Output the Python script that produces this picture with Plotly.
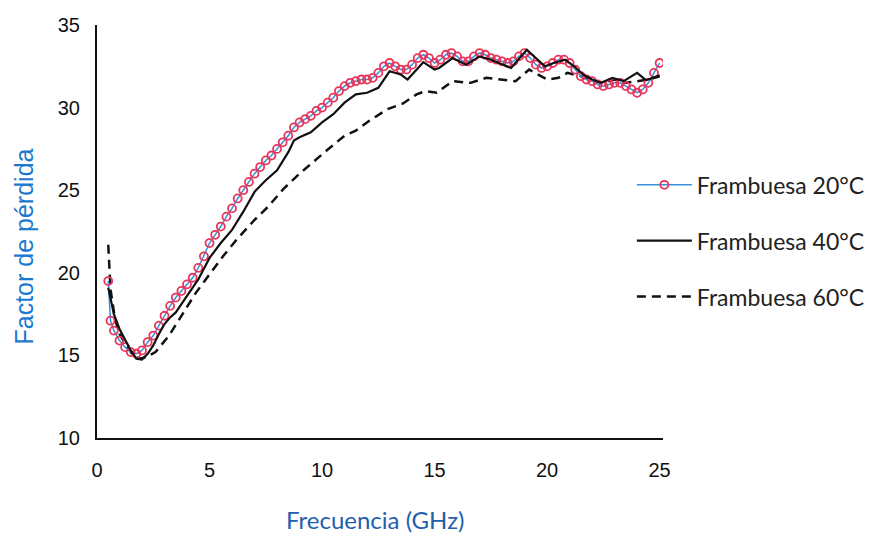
import plotly.graph_objects as go

# Frambuesa 20°C (open circles)
x20 = [0.5, 0.6, 0.75, 1.0, 1.25, 1.5, 1.75, 2.0, 2.25, 2.5, 2.75, 3.0, 3.25, 3.5, 3.75, 4.0, 4.25, 4.5, 4.75,
       5.0, 5.25, 5.5, 5.75, 6.0, 6.25, 6.5, 6.75, 7.0, 7.25, 7.5, 7.75, 8.0, 8.25, 8.5, 8.75, 9.0, 9.25, 9.5, 9.75,
       10.0, 10.25, 10.5, 10.75, 11.0, 11.25, 11.5, 11.75, 12.0, 12.25, 12.5, 12.75, 13.0, 13.25, 13.5, 13.75,
       14.0, 14.25, 14.5, 14.75, 15.0, 15.25, 15.5, 15.75, 16.0, 16.25, 16.5, 16.75, 17.0, 17.25, 17.5, 17.75,
       18.0, 18.25, 18.5, 18.75, 19.0, 19.25, 19.5, 19.75, 20.0, 20.25, 20.5, 20.75, 21.0, 21.25, 21.5, 21.75,
       22.0, 22.25, 22.5, 22.75, 23.0, 23.25, 23.5, 23.75, 24.0, 24.25, 24.5, 24.75, 25.0]
y20 = [19.5, 17.1, 16.5, 15.9, 15.5, 15.2, 15.1, 15.3, 15.8, 16.2, 16.8, 17.4, 18.0, 18.5, 18.9, 19.3, 19.7, 20.3, 21.0,
       21.8, 22.3, 22.8, 23.4, 23.9, 24.5, 25.0, 25.5, 26.0, 26.4, 26.8, 27.1, 27.5, 27.9, 28.3, 28.8, 29.1, 29.3, 29.5, 29.8,
       30.0, 30.3, 30.6, 31.0, 31.3, 31.5, 31.6, 31.7, 31.7, 31.8, 32.1, 32.5, 32.7, 32.5, 32.3, 32.3,
       32.6, 33.0, 33.2, 33.0, 32.7, 32.9, 33.2, 33.3, 33.1, 32.8, 32.8, 33.1, 33.3, 33.2, 33.0, 32.9,
       32.8, 32.7, 32.8, 33.1, 33.3, 33.0, 32.6, 32.4, 32.5, 32.7, 32.9, 32.9, 32.7, 32.3, 31.9, 31.7,
       31.6, 31.4, 31.3, 31.4, 31.5, 31.5, 31.3, 31.1, 30.9, 31.1, 31.5, 32.1, 32.7]

# Frambuesa 40°C (solid)
x40 = [0.5, 0.75, 1.0, 1.25, 1.5, 1.75, 2.0, 2.25, 2.5, 2.75, 3.0, 3.25, 3.5, 3.75, 4.0, 4.5, 5.0, 5.5, 6.0, 6.5,
       7.0, 7.5, 8.0, 8.5, 8.75, 9.0, 9.5, 10.0, 10.5, 11.0, 11.5, 12.0, 12.5, 13.0, 13.5, 13.8, 14.5, 15.0, 15.2,
       15.8, 16.4, 17.0, 17.5, 18.0, 18.4, 19.1, 19.5, 19.9, 20.3, 20.8, 21.2, 21.6, 22.0, 22.4, 22.9, 23.4, 24.0,
       24.4, 25.0]
y40 = [19.1, 17.5, 16.6, 15.9, 15.3, 14.8, 14.75, 15.1, 15.6, 16.3, 16.9, 17.3, 17.6, 18.1, 18.6, 19.6, 20.9, 21.8, 22.6, 23.7,
       24.9, 25.6, 26.2, 27.3, 28.0, 28.2, 28.5, 29.1, 29.6, 30.3, 30.8, 30.9, 31.2, 32.2, 32.0, 31.7, 32.75, 32.3, 32.4,
       33.0, 32.6, 33.1, 32.9, 32.6, 32.4, 33.5, 33.0, 32.5, 32.7, 32.9, 32.5, 32.0, 31.7, 31.5, 31.8, 31.6, 32.1,
       31.65, 31.95]

# Frambuesa 60°C (dashed)
x60 = [0.5, 0.6, 0.8, 1.0, 1.3, 1.6, 1.9, 2.2, 2.6, 3.2, 3.8, 4.4, 5.0, 5.6, 6.2, 7.0, 7.6, 8.3, 9.0, 9.5, 10.2,
       11.0, 11.5, 12.1, 12.9, 13.6, 14.2, 14.6, 15.1, 15.8, 16.6, 17.3, 18.0, 18.6, 19.2, 19.6, 20.0, 20.5, 20.9,
       21.5, 22.0, 22.5, 23.0, 23.5, 24.0, 24.5, 25.0]
y60 = [21.7, 19.0, 17.2, 16.3, 15.6, 15.0, 14.8, 14.9, 15.2, 16.2, 17.5, 18.8, 19.9, 21.0, 22.0, 23.2, 24.0, 25.1, 26.0, 26.6, 27.4,
       28.3, 28.6, 29.2, 29.9, 30.25, 30.8, 31.0, 30.9, 31.6, 31.5, 31.8, 31.7, 31.6, 32.3, 32.0, 31.7, 31.8, 32.1,
       31.9, 31.6, 31.5, 31.7, 31.5, 31.6, 31.7, 31.9]

names = ["Frambuesa 20°C", "Frambuesa 40°C", "Frambuesa 60°C"]
x_ticks = [0, 5, 10, 15, 20, 25]
y_ticks = [10, 15, 20, 25, 30, 35]
x_title = "Frecuencia (GHz)"
y_title = "Factor de pérdida"

fig = go.Figure()
fig.add_trace(go.Scatter(x=x60, y=y60, mode="lines", name=names[2], legendrank=3, legendgroup="c",
                         line=dict(color="#111111", width=2.5, dash="9px,6px")))
fig.add_trace(go.Scatter(x=x20, y=y20, mode="lines+markers", name=names[0], legendrank=1, legendgroup="a",
                         line=dict(color="#3b8fdc", width=1.5),
                         marker=dict(symbol="circle-open", size=8, color="#e8365a", line=dict(width=1.8))))
fig.add_trace(go.Scatter(x=x40, y=y40, mode="lines", name=names[1], legendrank=2, legendgroup="b",
                         line=dict(color="#111111", width=2.2)))

fig.update_layout(
    width=874, height=533,
    margin=dict(l=97, r=211, t=25, b=95, autoexpand=False),
    paper_bgcolor="white", plot_bgcolor="white",
    showlegend=True,
    legend=dict(x=0.945, y=0.665, xanchor="left", yanchor="top",
                font=dict(family="Lato", size=23, color="#222222"),
                tracegroupgap=23, itemwidth=55, bgcolor="rgba(0,0,0,0)"),
    xaxis=dict(range=[0, 25.15], tickvals=x_ticks, showgrid=False, zeroline=False,
               showline=True, linecolor="#111111", linewidth=2, ticks="",
               ticklabelstandoff=13,
               tickfont=dict(family="Liberation Sans", size=20, color="#111111")),
    yaxis=dict(range=[10, 35], tickvals=y_ticks, showgrid=False, zeroline=False,
               showline=True, linecolor="#111111", linewidth=2, ticks="",
               ticklabelstandoff=11,
               tickfont=dict(family="Liberation Sans", size=20, color="#111111")),
    annotations=[
        dict(text=x_title, xref="paper", yref="paper", x=(374.5 - 97) / 566, y=-(519 - 438) / 413,
             xanchor="center", yanchor="middle", showarrow=False,
             font=dict(family="Lato", size=24, color="#1f5fae")),
        dict(text=y_title, xref="paper", yref="paper", x=-(97 - 23) / 566, y=1 - (246.5 - 25) / 413,
             xanchor="center", yanchor="middle", showarrow=False, textangle=-90,
             font=dict(family="Liberation Sans", size=25, color="#1a78cf")),
    ],
)

fig.write_html("out.html")
